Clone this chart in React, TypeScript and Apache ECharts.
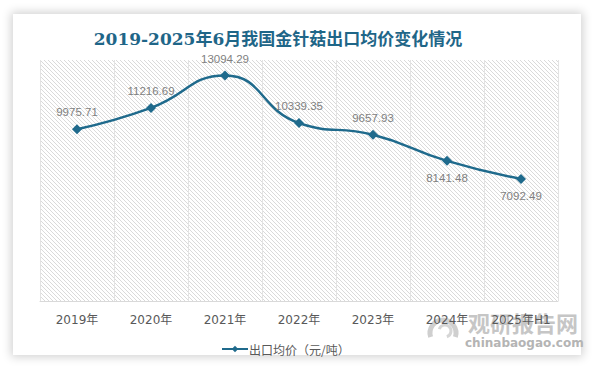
import React, { useEffect, useRef } from "react";
import * as echarts from "echarts";

const categories = ["2019年", "2020年", "2021年", "2022年", "2023年", "2024年", "2025年H1"];
const prices = [9975.71, 11216.69, 13094.29, 10339.35, 9657.93, 8141.48, 7092.49];
const labelPositions = ["top", "top", "top", "top", "top", "bottom", "bottom"];
const seriesName = "出口均价（元/吨）";
const titleText = "2019-2025年6月我国金针菇出口均价变化情况";

function makeHatch(): string {
  const c = document.createElement("canvas");
  c.width = 4;
  c.height = 4;
  const ctx = c.getContext("2d");
  if (ctx) {
    ctx.fillStyle = "#ffffff";
    ctx.fillRect(0, 0, 4, 4);
    ctx.fillStyle = "#dadada";
    for (let i = 0; i < 4; i += 1) ctx.fillRect(i, i, 1, 1);
  }
  return c.toDataURL();
}

export default function App() {
  const ref = useRef<HTMLDivElement>(null);
  useEffect(() => {
    document.body.style.margin = "0";
    if (!ref.current) return;
    const chart = echarts.init(ref.current, undefined, { renderer: "svg" });
    const hatch = makeHatch();
    chart.setOption({
      animation: false,
      backgroundColor: "transparent",
      grid: {
        show: true,
        left: 40,
        right: 36,
        top: 60,
        bottom: 65,
        borderWidth: 0,
        backgroundColor: { image: hatch, repeat: "repeat" } as any,
      },
      graphic: [
        {
          type: "text",
          x: 278,
          y: 39,
          style: {
            text: titleText,
            fill: "#1f6688",
            font: "bold 17px 'DejaVu Serif', 'Noto Sans CJK SC', serif",
            textAlign: "center",
            textVerticalAlign: "middle",
          },
        },
        {
          type: "arc",
          shape: { cx: 443, cy: 333, r: 13, startAngle: Math.PI * 0.9, endAngle: Math.PI * 2.1 },
          style: { fill: "none", stroke: "#cfcfcf", lineWidth: 5 },
          z: 0,
        },
        {
          type: "arc",
          shape: { cx: 445, cy: 331, r: 6, startAngle: Math.PI * 1.1, endAngle: Math.PI * 2.4 },
          style: { fill: "none", stroke: "#d6d6d6", lineWidth: 3 },
          z: 0,
        },
        {
          type: "text",
          x: 468,
          y: 322,
          style: {
            text: "观研报告网",
            fill: "#c6c6c6",
            font: "bold 22px 'Noto Sans CJK SC', sans-serif",
            textVerticalAlign: "middle",
          },
          z: 0,
        },
        {
          type: "text",
          x: 465,
          y: 343,
          style: {
            text: "chinabaogao.com",
            fill: "#b4b4b4",
            font: "bold 12px 'DejaVu Sans', sans-serif",
            textVerticalAlign: "middle",
          },
          z: 0,
        },
      ],
      legend: {
        top: 338,
        left: 216,
        itemWidth: 26,
        itemHeight: 8,
        itemGap: 10,
        textStyle: { color: "#595959", fontSize: 12, fontFamily: "'Noto Sans CJK SC', sans-serif", padding: [0, 0, 0, -4] },
        data: [{ name: seriesName }],
      },
      xAxis: {
        type: "category",
        data: categories,
        boundaryGap: true,
        axisLine: { show: true, lineStyle: { color: "#d9d9d9", width: 1 } },
        axisTick: { show: false },
        splitLine: { show: true, interval: 0, lineStyle: { color: "#e3e3e3", width: 1 } },
        axisLabel: {
          interval: 0,
          hideOverlap: false,
          color: "#595959",
          fontSize: 12,
          margin: 13,
          fontFamily: "'DejaVu Sans', 'Noto Sans CJK SC', sans-serif",
        },
      },
      yAxis: {
        type: "value",
        min: 0,
        max: 14000,
        show: false,
        splitLine: { show: false },
      },
      series: [
        {
          name: seriesName,
          type: "line",
          smooth: true,
          symbol: "diamond",
          symbolSize: 10,
          itemStyle: { color: "#1f6a8c" },
          lineStyle: { color: "#1f6a8c", width: 2.5 },
          data: prices.map((v, i) => ({
            value: v,
            label: { position: labelPositions[i] },
          })),
          label: {
            show: true,
            color: "#7f7f7f",
            fontSize: 11.5,
            fontFamily: "'Liberation Sans', Arial, sans-serif",
            distance: 6,
            formatter: (p: any) => p.value.toFixed(2),
          },
        },
      ],
    });
    return () => chart.dispose();
  }, []);
  return (
    <div style={{ position: "relative", width: 594, height: 366, background: "#ffffff", overflow: "hidden" }}>
      <div
        style={{
          position: "absolute",
          left: 13,
          top: 14,
          width: 568,
          height: 341,
          background: "#ffffff",
          boxShadow: "0 0 9px 2px rgba(0,0,0,0.18)",
        }}
      />
      <div ref={ref} style={{ position: "absolute", left: 0, top: 0, width: 594, height: 366 }} />
    </div>
  );
}
